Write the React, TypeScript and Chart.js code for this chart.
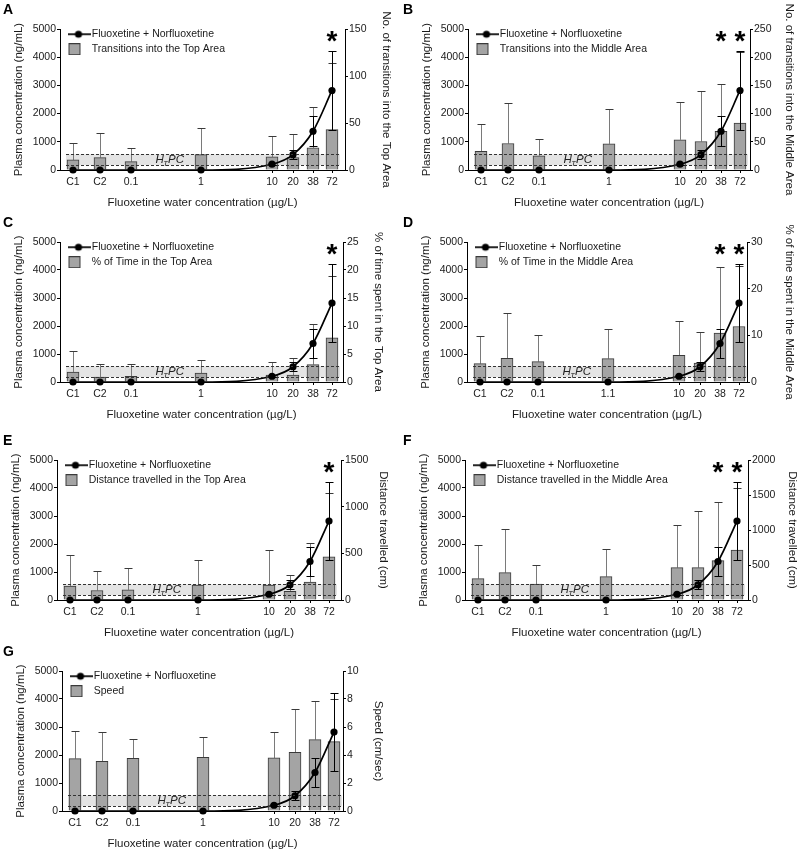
import React, { useEffect, useRef } from 'react';
import { Chart, registerables } from 'chart.js';

Chart.register(...registerables);

const FONT = "'Liberation Sans', Arial, Helvetica, sans-serif";
const INK = '#1a1a1a';

// ---------- data ----------
const categories = ['C1', 'C2', '0.1', '1', '10', '20', '38', '72'];
const categoriesD = ['C1', 'C2', '0.1', '1.1', '10', '20', '38', '72'];

const plasmaLabel = 'Fluoxetine + Norfluoxetine';
const plasmaMean = [0, 0, 0, 0, 205, 545, 1375, 2820];
const plasmaSD = [0, 0, 0, 0, 35, 165, 530, 1400];
const htpcLow = 170;
const htpcHigh = 560;
const leftMax = 5000;
const leftStep = 1000;

const transTopMean = [10.7, 13.2, 8.9, 16.4, 13.9, 13.2, 23.6, 42.9];
const transTopSD = [17.5, 25.7, 14.3, 28.2, 22.5, 25.0, 43.9, 71.1];
const transMidMean = [33.1, 47.0, 25.3, 46.4, 53.6, 50.6, 68.7, 83.1];
const transMidSD = [48.2, 72.3, 30.1, 62.0, 67.4, 89.4, 84.3, 126.9];
const timeTopMean = [1.79, 0.9, 1.0, 1.6, 1.25, 1.25, 3.1, 7.9];
const timeTopSD = [3.71, 2.3, 2.2, 2.4, 2.35, 3.05, 7.3, 11.1];
const timeMidMean = [3.93, 5.07, 4.36, 5.0, 5.7, 4.07, 10.5, 11.9];
const timeMidSD = [5.93, 9.73, 5.74, 6.4, 7.4, 6.73, 14.1, 13.0];
const distTopMean = [148, 102, 109, 159, 159, 92, 191, 462];
const distTopSD = [332, 212, 237, 265, 381, 180, 416, 688];
const distMidMean = [305, 390, 229, 333, 462, 462, 562, 714];
const distMidSD = [481, 620, 271, 396, 609, 809, 838, 886];
const speedMean = [3.74, 3.55, 3.76, 3.83, 3.79, 4.19, 5.1, 4.95];
const speedSD = [1.95, 2.07, 1.41, 1.48, 1.85, 3.12, 2.73, 3.07];

// ---------- layout (not data) ----------
// horizontal offset (px) of each category slot from the left axis
const slotOffset = [13, 40, 71, 141, 212, 233, 253, 272];

type PanelCfg = {
  letter: string;
  col: number;
  frame: [number, number, number, number]; // L, R, T, B page px
  labels: string[];
  barLabel: string;
  rightTitle: string;
  rMax: number;
  rStep: number;
  mean: number[];
  sd: number[];
  stars: string[];
  rOff: number;
};

const panels: PanelCfg[] = [
  { letter: 'A', col: 0, frame: [60, 345, 29, 170], labels: categories, barLabel: 'Transitions into the Top Area', rightTitle: 'No. of transitions into the Top Area', rMax: 150, rStep: 50, mean: transTopMean, sd: transTopSD, stars: ['72'], rOff: 41 },
  { letter: 'B', col: 1, frame: [468, 750, 29, 170], labels: categories, barLabel: 'Transitions into the Middle Area', rightTitle: 'No. of transitions into the Middle Area', rMax: 250, rStep: 50, mean: transMidMean, sd: transMidSD, stars: ['38', '72'], rOff: 39 },
  { letter: 'C', col: 0, frame: [60, 343, 242, 382], labels: categories, barLabel: '% of Time in the Top Area', rightTitle: '% of time spent in the Top Area', rMax: 25, rStep: 5, mean: timeTopMean, sd: timeTopSD, stars: ['72'], rOff: 35 },
  { letter: 'D', col: 1, frame: [467, 747, 242, 382], labels: categoriesD, barLabel: '% of Time in the Middle Area', rightTitle: '% of time spent in the Middle Area', rMax: 30, rStep: 10, mean: timeMidMean, sd: timeMidSD, stars: ['38', '72'], rOff: 42 },
  { letter: 'E', col: 0, frame: [57, 341, 460, 600], labels: categories, barLabel: 'Distance travelled in the Top Area', rightTitle: 'Distance travelled (cm)', rMax: 1500, rStep: 500, mean: distTopMean, sd: distTopSD, stars: ['72'], rOff: 42 },
  { letter: 'F', col: 1, frame: [465, 748, 460, 600], labels: categories, barLabel: 'Distance travelled in the Middle Area', rightTitle: 'Distance travelled (cm)', rMax: 2000, rStep: 500, mean: distMidMean, sd: distMidSD, stars: ['38', '72'], rOff: 44 },
  { letter: 'G', col: 0, frame: [62, 343, 671, 811], labels: categories, barLabel: 'Speed', rightTitle: 'Speed (cm/sec)', rMax: 10, rStep: 2, mean: speedMean, sd: speedSD, stars: [], rOff: 35 },
];

const TICK_SIZE = 10.5;
const TITLE_SIZE = 11.5;
const TITLE_LH = TITLE_SIZE * 1.2;

function makeLineIcon() {
  const c = document.createElement('canvas');
  c.width = 23; c.height = 10;
  const g = c.getContext('2d')!;
  g.strokeStyle = '#000'; g.lineWidth = 1.7;
  g.beginPath(); g.moveTo(0, 5); g.lineTo(23, 5); g.stroke();
  g.fillStyle = '#000';
  g.beginPath(); g.arc(11, 5, 3.6, 0, Math.PI * 2); g.fill();
  return c;
}
function makeBoxIcon() {
  const c = document.createElement('canvas');
  c.width = 23; c.height = 12;
  const g = c.getContext('2d')!;
  g.fillStyle = '#a4a4a4';
  g.fillRect(1, 0, 12, 12);
  g.strokeStyle = '#3a3a3a'; g.lineWidth = 1;
  g.strokeRect(1.5, 0.5, 11, 11);
  return c;
}

function extrasPlugin(p: PanelCfg) {
  const slots = slotOffset;
  return {
    id: 'panelExtras' + p.letter,
    afterLayout(chart: any) {
      const lg = chart.legend;
      const ca = chart.chartArea;
      if (lg && ca) {
        lg.left = ca.left + 7;
        lg.top = ca.top - 4.5;
        lg.right = ca.right;
        lg.bottom = ca.bottom;
      }
    },
    beforeDatasetsDraw(chart: any) {
      const { ctx } = chart;
      const { x, y, y1 } = chart.scales;
      const x0 = x.getPixelForValue(slots[0]) - 7;
      const x1 = x.getPixelForValue(slots[slots.length - 1]) + 8;
      const yTop = y.getPixelForValue(htpcHigh);
      const yBot = y.getPixelForValue(htpcLow);
      ctx.save();
      ctx.fillStyle = '#e4e4e4';
      ctx.fillRect(x0, yTop, x1 - x0, yBot - yTop);
      // bar error bars (upper only)
      ctx.lineWidth = 1;
      p.mean.forEach((m, i) => {
        const px = Math.round(x.getPixelForValue(slots[i])) + 0.5;
        const yt = y1.getPixelForValue(m);
        const ye = Math.round(y1.getPixelForValue(m + p.sd[i])) + 0.5;
        ctx.strokeStyle = '#7a7a7a';
        ctx.beginPath(); ctx.moveTo(px, yt); ctx.lineTo(px, ye); ctx.stroke();
        ctx.strokeStyle = '#3a3a3a';
        ctx.beginPath(); ctx.moveTo(px - 4, ye); ctx.lineTo(px + 4, ye); ctx.stroke();
      });
      ctx.restore();
    },
    afterDatasetsDraw(chart: any) {
      const { ctx } = chart;
      const { x, y } = chart.scales;
      const x0 = x.getPixelForValue(slots[0]) - 7;
      const x1 = x.getPixelForValue(slots[slots.length - 1]) + 8;
      ctx.save();
      // dashed band borders
      ctx.strokeStyle = '#333';
      ctx.lineWidth = 1;
      ctx.setLineDash([3, 2]);
      [htpcHigh, htpcLow].forEach((v) => {
        const yy = Math.round(y.getPixelForValue(v)) + 0.5;
        ctx.beginPath(); ctx.moveTo(x0, yy); ctx.lineTo(x1, yy); ctx.stroke();
      });
      ctx.setLineDash([]);
      // plasma error bars
      ctx.strokeStyle = '#000';
      plasmaMean.forEach((m, i) => {
        const s = plasmaSD[i];
        if (!s) return;
        const px = Math.round(x.getPixelForValue(slots[i])) + 0.5;
        const ya = Math.round(y.getPixelForValue(m + s)) + 0.5;
        const yb = Math.round(y.getPixelForValue(m - s)) + 0.5;
        ctx.beginPath(); ctx.moveTo(px, ya); ctx.lineTo(px, yb); ctx.stroke();
        ctx.beginPath(); ctx.moveTo(px - 4, ya); ctx.lineTo(px + 4, ya); ctx.stroke();
        ctx.beginPath(); ctx.moveTo(px - 4, yb); ctx.lineTo(px + 4, yb); ctx.stroke();
      });
      // HTPC label
      const cx = x.getPixelForValue((slots[2] + slots[3]) / 2) + 4;
      const cy = y.getPixelForValue((htpcLow + htpcHigh) / 2) + 0.5;
      ctx.fillStyle = '#222';
      ctx.textBaseline = 'middle';
      ctx.textAlign = 'left';
      const big = `italic 11.5px ${FONT}`;
      const small = `italic 7.5px ${FONT}`;
      ctx.font = big; const wH = ctx.measureText('H').width; const wPC = ctx.measureText('PC').width;
      ctx.font = small; const wT = ctx.measureText('T').width;
      const total = wH + wT + wPC;
      let sx = cx - total / 2;
      ctx.font = big; ctx.fillText('H', sx, cy); sx += wH;
      ctx.font = small; ctx.fillText('T', sx - 0.5, cy + 3.5); sx += wT;
      ctx.font = big; ctx.fillText('PC', sx - 0.5, cy);
      // significance stars
      ctx.font = `bold 28px ${FONT}`;
      ctx.textAlign = 'center';
      ctx.textBaseline = 'alphabetic';
      ctx.fillStyle = '#000';
      const top = chart.chartArea.top;
      p.stars.forEach((lab) => {
        const i = p.labels.indexOf(lab);
        if (i < 0) return;
        ctx.fillText('*', x.getPixelForValue(slots[i]), top + 21);
      });
      ctx.restore();
    },
  };
}

const plainNum = (v: any) => String(v);

function Panel({ p }: { p: PanelCfg }) {
  const ref = useRef<HTMLCanvasElement>(null);
  const [L, R, T, B] = p.frame;
  const cLeft = p.col === 0 ? 0 : 400;
  const cRight = p.col === 0 ? 400 : 812;
  const cTop = T - 30;
  const cBottom = B + 44;
  const w = cRight - cLeft;
  const h = cBottom - cTop;
  const leftW = L - cLeft;
  const rightW = cRight - R;
  const leftTitlePad = L - 41 - cLeft - TITLE_LH / 2;
  const rightTitlePad = cRight - (R + p.rOff) - TITLE_LH / 2;

  useEffect(() => {
    if (!ref.current) return;
    const lineIcon = makeLineIcon();
    const boxIcon = makeBoxIcon();
    const tickFont = { family: FONT, size: TICK_SIZE };
    const titleFont = { family: FONT, size: TITLE_SIZE };
    const chart = new Chart(ref.current, {
      type: 'line',
      data: {
        datasets: [
          {
            type: 'line',
            label: plasmaLabel,
            data: plasmaMean.map((v, i) => ({ x: slotOffset[i], y: v })),
            yAxisID: 'y',
            borderColor: '#000',
            backgroundColor: '#000',
            borderWidth: 1.7,
            pointRadius: 3.6,
            pointBackgroundColor: '#000',
            pointBorderWidth: 0,
            cubicInterpolationMode: 'monotone',
            clip: false,
          } as any,
          {
            type: 'bar',
            label: p.barLabel,
            data: p.mean.map((v, i) => ({ x: slotOffset[i], y: v })),
            yAxisID: 'y1',
            backgroundColor: '#a4a4a4',
            borderColor: '#3a3a3a',
            borderWidth: 1,
            barThickness: 12,
          } as any,
        ],
      },
      options: {
        responsive: false,
        animation: false,
        devicePixelRatio: 1,
        events: [],
        layout: { padding: { top: 30, left: 0, right: 0, bottom: 0 } },
        plugins: {
          tooltip: { enabled: false },
          legend: {
            position: 'chartArea' as any,
            align: 'start',
            labels: {
              usePointStyle: true,
              pointStyleWidth: 15,
              padding: 4.5,
              color: INK,
              font: { family: FONT, size: TICK_SIZE },
              generateLabels: () => [
                { text: plasmaLabel, pointStyle: lineIcon, fillStyle: '#000', strokeStyle: '#000', lineWidth: 0, hidden: false, datasetIndex: 0, fontColor: INK } as any,
                { text: p.barLabel, pointStyle: boxIcon, fillStyle: '#a4a4a4', strokeStyle: '#3a3a3a', lineWidth: 0, hidden: false, datasetIndex: 1, fontColor: INK } as any,
              ],
            },
          },
        },
        scales: {
          x: {
            type: 'linear',
            min: 0,
            max: R - L,
            offset: false,
            afterBuildTicks: (s: any) => { s.ticks = slotOffset.map((v) => ({ value: v })); },
            afterFit: (s: any) => { s.height = 44; },
            grid: { display: true, drawOnChartArea: false, drawTicks: true, tickLength: 3, color: '#000', offset: false },
            border: { display: true, color: '#000', width: 1 },
            ticks: {
              autoSkip: false,
              maxRotation: 0,
              minRotation: 0,
              padding: 3,
              color: INK,
              font: tickFont,
              callback: (_v: any, i: number) => p.labels[i],
            },
            title: {
              display: true,
              text: 'Fluoxetine water concentration (µg/L)',
              color: INK,
              font: titleFont,
              padding: { top: 0, bottom: 4 },
            },
          } as any,
          y: {
            type: 'linear',
            position: 'left',
            min: 0,
            max: leftMax,
            afterFit: (s: any) => { s.width = leftW; },
            grid: { display: true, drawOnChartArea: false, drawTicks: true, tickLength: 3, color: '#000' },
            border: { display: true, color: '#000', width: 1 },
            ticks: { stepSize: leftStep, padding: 1, color: INK, font: tickFont, callback: plainNum },
            title: {
              display: true,
              text: 'Plasma concentration (ng/mL)',
              color: INK,
              font: titleFont,
              padding: { top: leftTitlePad, bottom: 0 },
            },
          } as any,
          y1: {
            type: 'linear',
            position: 'right',
            min: 0,
            max: p.rMax,
            afterFit: (s: any) => { s.width = rightW; },
            grid: { display: true, drawOnChartArea: false, drawTicks: true, tickLength: 3, color: '#000' },
            border: { display: true, color: '#000', width: 1 },
            ticks: { stepSize: p.rStep, padding: 1, color: INK, font: tickFont, callback: plainNum },
            title: {
              display: true,
              text: p.rightTitle,
              color: INK,
              font: titleFont,
              padding: { top: rightTitlePad, bottom: 0 },
            },
          } as any,
        },
      } as any,
      plugins: [extrasPlugin(p) as any],
    });
    return () => chart.destroy();
  }, []);

  return (
    <>
      <canvas
        ref={ref}
        width={w}
        height={h}
        style={{ position: 'absolute', left: cLeft, top: cTop, width: w, height: h }}
      />
      <div
        style={{
          position: 'absolute',
          left: p.col === 0 ? 3 : 403,
          top: T - 27,
          font: `bold 14px ${FONT}`,
          lineHeight: '14px',
          color: '#000',
        }}
      >
        {p.letter}
      </div>
    </>
  );
}

export default function App() {
  return (
    <div
      style={{
        position: 'absolute',
        left: 0,
        top: 0,
        width: 798,
        height: 851,
        overflow: 'hidden',
        background: '#fff',
      }}
    >
      {panels.map((p) => (
        <Panel key={p.letter} p={p} />
      ))}
    </div>
  );
}
